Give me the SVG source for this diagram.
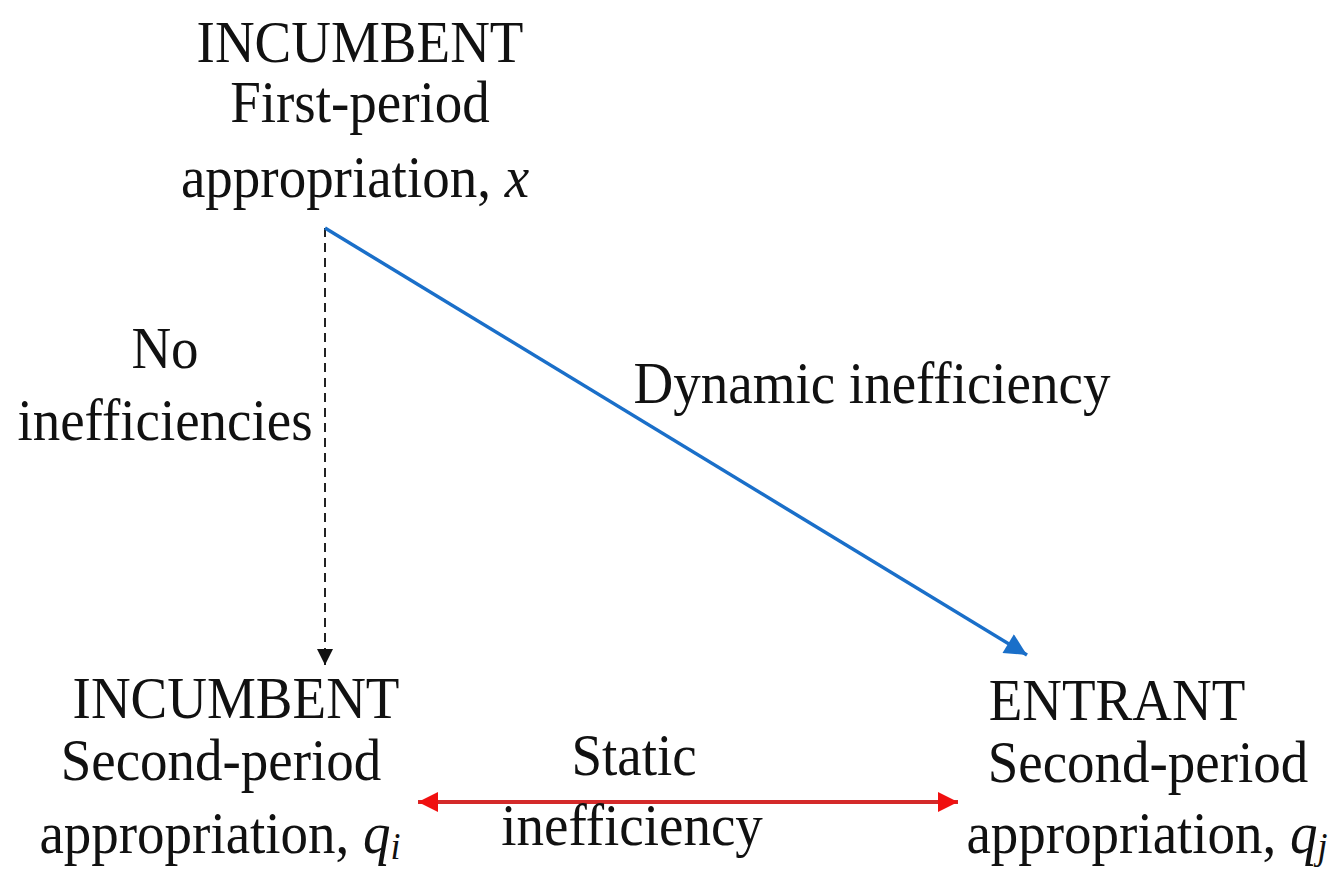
<svg xmlns="http://www.w3.org/2000/svg" width="1338" height="877" viewBox="0 0 1338 877">
<style>
  text { font-family: "Liberation Serif", "Times New Roman", serif; font-size: 55px; fill: #111; text-anchor: middle; }
  .it { font-style: italic; }
  .sub { font-style: italic; font-size: 36px; }
</style>
<defs>
  <marker id="ahBlack" viewBox="0 0 10 10" refX="10" refY="5" markerWidth="30" markerHeight="16" markerUnits="userSpaceOnUse" orient="auto">
    <path d="M0,0 L10,5 L0,10 z" fill="#111"/>
  </marker>
  <marker id="ahBlue" viewBox="0 0 10 10" refX="10" refY="5" markerWidth="32" markerHeight="22" markerUnits="userSpaceOnUse" orient="auto">
    <path d="M0,0 L10,5 L0,10 z" fill="#1a6fc9"/>
  </marker>
  <marker id="ahRed" viewBox="0 0 10 10" refX="10" refY="5" markerWidth="28" markerHeight="20" markerUnits="userSpaceOnUse" orient="auto-start-reverse">
    <path d="M0,0 L10,5 L0,10 z" fill="#f01010"/>
  </marker>
</defs>
<rect width="1338" height="877" fill="#fff"/>

<g id="connectors">
  <line x1="325" y1="228" x2="325" y2="665" stroke="#222" stroke-width="2" stroke-dasharray="9,6" marker-end="url(#ahBlack)"/>
  <line x1="325" y1="228" x2="1027" y2="655" stroke="#1a6fc9" stroke-width="3.5" marker-end="url(#ahBlue)"/>
  <line x1="418" y1="802" x2="958" y2="802" stroke="#d42a2a" stroke-width="4" marker-start="url(#ahRed)" marker-end="url(#ahRed)"/>
</g>

<g id="node-incumbent-first">
  <text transform="translate(360,62) scale(1,1.06)">INCUMBENT</text>
  <text transform="translate(360,122) scale(1,1.06)">First-period</text>
  <text transform="translate(355,197) scale(1,1.06)" font-size="54">appropriation, <tspan class="it">x</tspan></text>
</g>

<g id="node-incumbent-second">
  <text transform="translate(236,718) scale(1,1.06)">INCUMBENT</text>
  <text transform="translate(221,780) scale(1,1.06)">Second-period</text>
  <text transform="translate(220,853) scale(1,1.06)" font-size="54">appropriation, <tspan class="it">q</tspan><tspan class="sub" dy="6">i</tspan></text>
</g>

<g id="node-entrant-second">
  <text transform="translate(1117,720) scale(1,1.06)">ENTRANT</text>
  <text transform="translate(1148,782) scale(1,1.06)">Second-period</text>
  <text transform="translate(1147,853) scale(1,1.06)" font-size="54">appropriation, <tspan class="it">q</tspan><tspan class="sub" dy="6">j</tspan></text>
</g>

<g id="label-no-ineff">
  <text transform="translate(165,368) scale(1,1.06)">No</text>
  <text transform="translate(165,440) scale(1,1.06)">inefficiencies</text>
</g>

<g id="label-dynamic">
  <text transform="translate(872,403) scale(1,1.06)">Dynamic inefficiency</text>
</g>

<g id="label-static">
  <text transform="translate(634,775) scale(1,1.06)">Static</text>
  <text transform="translate(632,845) scale(1,1.06)">inefficiency</text>
</g>
</svg>
